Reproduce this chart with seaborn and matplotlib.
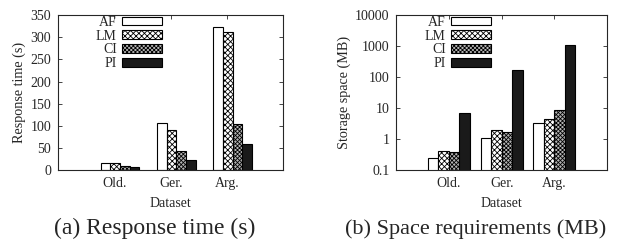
import pandas as pd
import numpy as np
import seaborn as sns
import matplotlib.pyplot as plt
from matplotlib.ticker import FixedLocator, NullLocator

datasets = ["Old.", "Ger.", "Arg."]
methods = ["AF", "LM", "CI", "PI"]

# response time (s), per method, in dataset order
time_af = [15, 106, 324]
time_lm = [17, 91, 312]
time_ci = [10, 44, 105]
time_pi = [6, 22, 58]

# storage space (MB)
space_af = [0.25, 1.1, 3.3]
space_lm = [0.42, 2.0, 4.5]
space_ci = [0.37, 1.7, 8.5]
space_pi = [7.0, 170, 1100]

face = {"AF": "white", "LM": "white", "CI": "#b4b4b4", "PI": "#1a1a1a"}
hatch = {"AF": "", "LM": "xxxxxx", "CI": "xxxxxxxx", "PI": ""}


def long_df(af, lm, ci, pi):
    rows = []
    for m, vals in zip(methods, [af, lm, ci, pi]):
        for d, v in zip(datasets, vals):
            rows.append({"Dataset": d, "Method": m, "Value": v})
    return pd.DataFrame(rows)


def style_bars(ax):
    for m, cont in zip(methods, ax.containers):
        for p in cont:
            p.set_facecolor(face[m])
            p.set_edgecolor("black")
            p.set_hatch(hatch[m])
            p.set_linewidth(0.8)


def draw(ax, data, width, shift, legend_x):
    sns.barplot(data=data, x="Dataset", y="Value", hue="Method", order=datasets,
                hue_order=methods, width=width, gap=0, ax=ax, legend=False,
                errorbar=None)
    style_bars(ax)
    ax.set_xticks(np.arange(3) + shift)
    ax.set_xticklabels(datasets)
    ax.set_xlim(-1 + shift, 3 + shift)
    ax.set_xlabel("Dataset", fontsize=10, labelpad=5)
    ax.tick_params(axis="both", direction="in", top=True, right=True,
                   labelsize=10, length=3, width=0.6, pad=5)
    for s in ax.spines.values():
        s.set_linewidth(0.8)
        s.set_visible(True)
    ax.legend(ax.containers, methods, loc="upper left", bbox_to_anchor=(legend_x, 1.075),
              frameon=False, markerfirst=False, handlelength=2.9, handleheight=0.6,
              fontsize=10, labelspacing=0.05, handletextpad=0.35)


sns.set_style("ticks")
plt.rcParams["font.family"] = ["Liberation Serif", "DejaVu Serif"]
plt.rcParams["hatch.linewidth"] = 0.6

fig = plt.figure(figsize=(6.31, 2.43), dpi=100)
ax1 = fig.add_axes([0.092, 0.300, 0.357, 0.638])
ax2 = fig.add_axes([0.628, 0.300, 0.334, 0.638])

draw(ax1, long_df(time_af, time_lm, time_ci, time_pi), 0.69, -0.1, 0.113)
ax1.set_ylim(0, 350)
ax1.set_yticks(range(0, 351, 50))
ax1.set_ylabel("Response time (s)", fontsize=10.2, labelpad=3)

draw(ax2, long_df(space_af, space_lm, space_ci, space_pi), 0.8, 0.0, 0.076)
ax2.set_yscale("log")
ax2.set_ylim(0.1, 10000)
ax2.yaxis.set_major_locator(FixedLocator([0.1, 1, 10, 100, 1000, 10000]))
ax2.yaxis.set_minor_locator(NullLocator())
ax2.set_yticklabels(["0.1", "1", "10", "100", "1000", "10000"])
ax2.set_ylabel("Storage space (MB)", fontsize=10.2, labelpad=3)

fig.text(0.245, 0.058, "(a) Response time (s)", ha="center", va="center", fontsize=17)
fig.text(0.754, 0.058, "(b) Space requirements (MB)", ha="center", va="center", fontsize=16)

fig.savefig("out.png", dpi=100)
